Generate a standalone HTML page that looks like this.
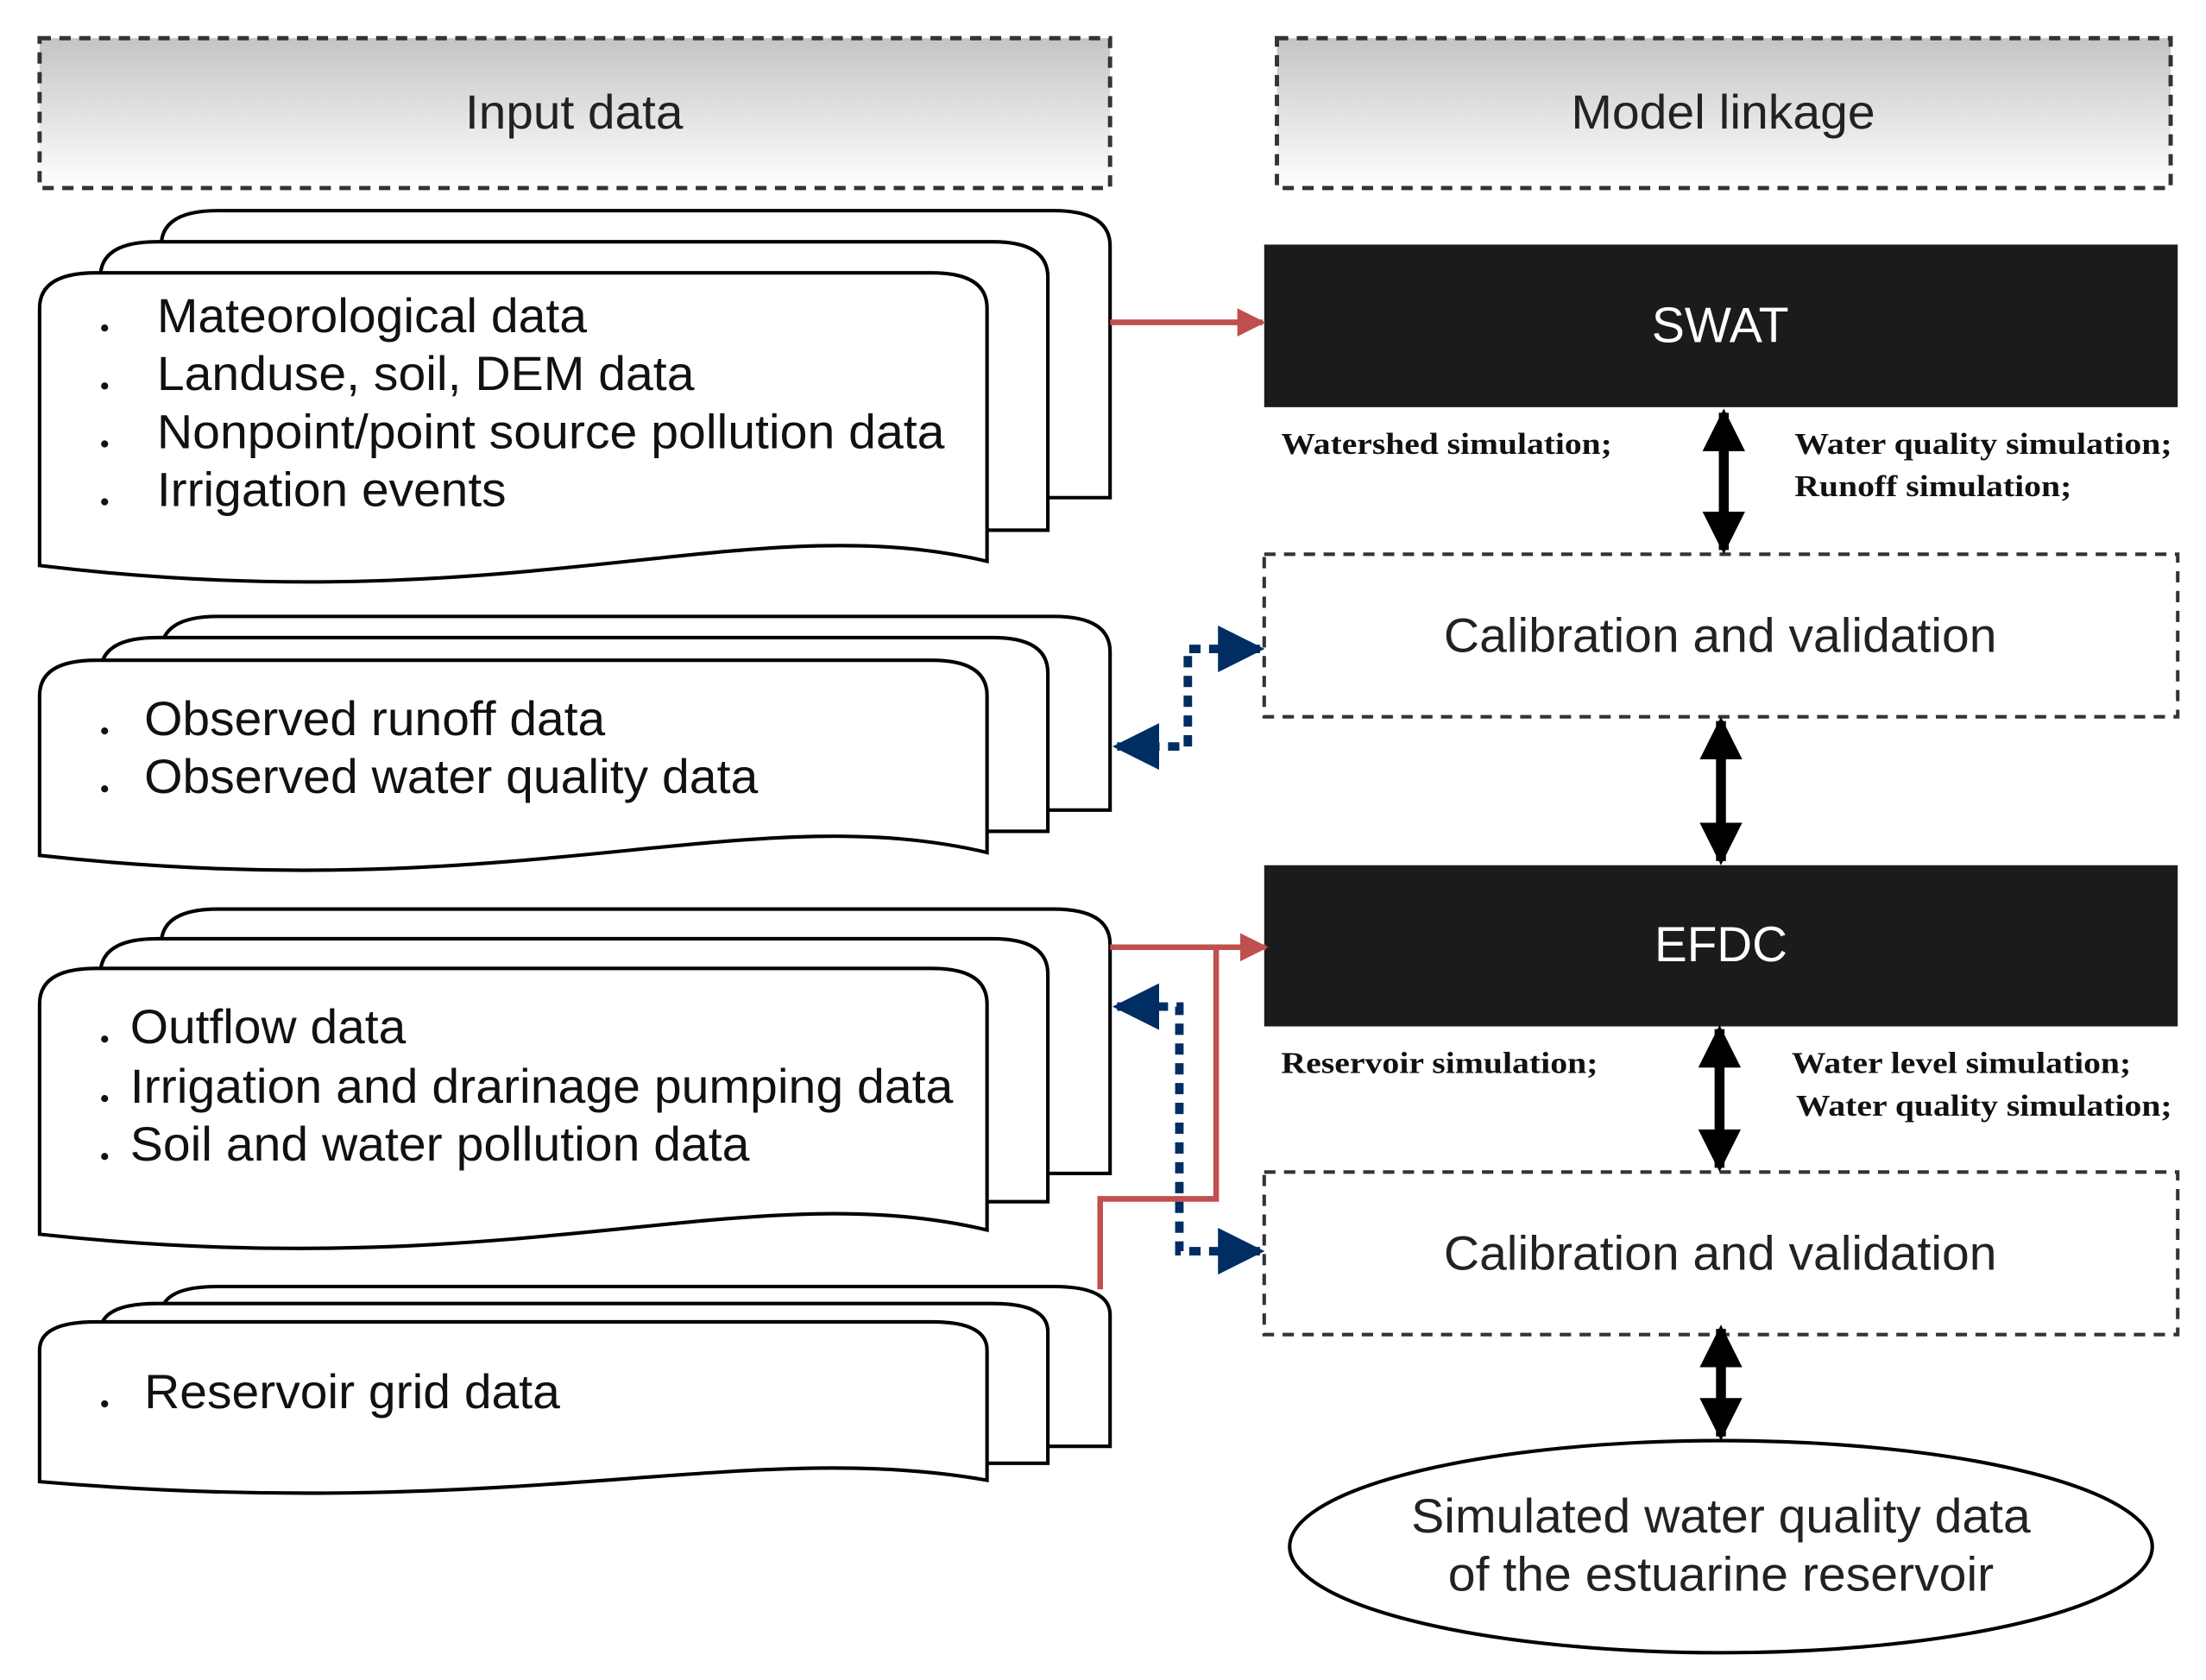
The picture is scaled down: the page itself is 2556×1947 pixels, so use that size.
<!DOCTYPE html>
<html><head><meta charset="utf-8"><style>html,body{margin:0;padding:0;background:#fff}svg{display:block}</style></head>
<body>
<svg width="2556" height="1947" viewBox="0 0 1560 1188.3" preserveAspectRatio="none" xmlns="http://www.w3.org/2000/svg">
<defs>
<linearGradient id="g" x1="0" y1="0" x2="0" y2="1"><stop offset="0" stop-color="#c4c4c4"/><stop offset="1" stop-color="#ffffff"/></linearGradient>
<marker id="ar" viewBox="0 0 10 10" refX="9" refY="5" markerWidth="5" markerHeight="5" orient="auto-start-reverse"><path d="M0,0L10,5L0,10z" fill="#c0504d"/></marker>
<marker id="ab" viewBox="0 0 10 10" refX="9" refY="5" markerWidth="5.5" markerHeight="5.5" orient="auto-start-reverse"><path d="M0,0L10,5L0,10z" fill="#002d62"/></marker>
<marker id="ak" viewBox="0 0 10 10" refX="9" refY="5" markerWidth="5" markerHeight="4.3" orient="auto-start-reverse"><path d="M0,0L10,5L0,10z" fill="#000"/></marker>
</defs>
<g font-family="Liberation Sans, sans-serif">
<rect x="28" y="27" width="757" height="106" fill="url(#g)" stroke="#333" stroke-width="3" stroke-dasharray="8,6"/>
<text x="329" y="91" font-size="34" textLength="154" lengthAdjust="spacingAndGlyphs" fill="#222">Input data</text>
<rect x="903" y="27" width="632" height="106" fill="url(#g)" stroke="#333" stroke-width="3" stroke-dasharray="8,6"/>
<text x="1111" y="91" font-size="34" textLength="215" lengthAdjust="spacingAndGlyphs" fill="#222">Model linkage</text>

<g fill="#fff" stroke="#000" stroke-width="2.5">
<path d="M114,352 L114,174 Q114,149 154,149 L745,149 Q785,149 785,174 L785,352 Z"/>
<path d="M71,375 L71,196 Q71,171 111,171 L702,171 Q741,171 741,196 L741,375 Z"/>
<path d="M28,400 L28,218 Q28,193 68,193 L659,193 Q698,193 698,218 L698,397 C528,357 368,441 28,400 Z"/>
<path d="M114,573 L114,461 Q114,436 154,436 L745,436 Q785,436 785,461 L785,573 Z"/>
<path d="M71,588 L71,476 Q71,451 111,451 L702,451 Q741,451 741,476 L741,588 Z"/>
<path d="M28,605 L28,492 Q28,467 68,467 L659,467 Q698,467 698,492 L698,603 C528,563 368,643 28,605 Z"/>
<path d="M114,830 L114,668 Q114,643 154,643 L745,643 Q785,643 785,668 L785,830 Z"/>
<path d="M71,850 L71,689 Q71,664 111,664 L702,664 Q741,664 741,689 L741,850 Z"/>
<path d="M28,873 L28,710 Q28,685 68,685 L659,685 Q698,685 698,710 L698,870 C528,830 368,910 28,873 Z"/>
<path d="M114,1023 L114,930 Q114,910 154,910 L745,910 Q785,910 785,930 L785,1023 Z"/>
<path d="M71,1035 L71,942 Q71,922 111,922 L702,922 Q741,922 741,942 L741,1035 Z"/>
<path d="M28,1048 L28,955 Q28,935 68,935 L659,935 Q698,935 698,955 L698,1047 C528,1017 368,1077 28,1048 Z"/>
</g>
<g fill="#111">
<circle cx="74" cy="232" r="2.5"/><circle cx="74" cy="273" r="2.5"/><circle cx="74" cy="314" r="2.5"/><circle cx="74" cy="355" r="2.5"/>
<circle cx="74" cy="517" r="2.5"/><circle cx="74" cy="558" r="2.5"/>
<circle cx="74" cy="735" r="2.5"/><circle cx="74" cy="777" r="2.5"/><circle cx="74" cy="818" r="2.5"/>
<circle cx="74" cy="993" r="2.5"/>
</g>
<g font-size="34" fill="#111" lengthAdjust="spacingAndGlyphs">
<text x="111" y="235" textLength="304" lengthAdjust="spacingAndGlyphs">Mateorological data</text>
<text x="111" y="276" textLength="380" lengthAdjust="spacingAndGlyphs">Landuse, soil, DEM data</text>
<text x="111" y="317" textLength="557" lengthAdjust="spacingAndGlyphs">Nonpoint/point source pollution data</text>
<text x="111" y="358" textLength="247" lengthAdjust="spacingAndGlyphs">Irrigation events</text>
<text x="102" y="520" textLength="326" lengthAdjust="spacingAndGlyphs">Observed runoff data</text>
<text x="102" y="561" textLength="434" lengthAdjust="spacingAndGlyphs">Observed water quality data</text>
<text x="92" y="738" textLength="195" lengthAdjust="spacingAndGlyphs">Outflow data</text>
<text x="92" y="780" textLength="582" lengthAdjust="spacingAndGlyphs">Irrigation and drarinage pumping data</text>
<text x="92" y="821" textLength="438" lengthAdjust="spacingAndGlyphs">Soil and water pollution data</text>
<text x="102" y="996" textLength="294" lengthAdjust="spacingAndGlyphs">Reservoir grid data</text>
</g>

<rect x="894" y="173" width="646" height="115" fill="#1b1b1b"/>
<text x="1168" y="242" font-size="35" textLength="97" lengthAdjust="spacingAndGlyphs" fill="#fff">SWAT</text>
<rect x="894" y="612" width="646" height="114" fill="#1b1b1b"/>
<text x="1170" y="680" font-size="35" textLength="94" lengthAdjust="spacingAndGlyphs" fill="#fff">EFDC</text>
<rect x="894" y="392" width="646" height="115" fill="none" stroke="#333" stroke-width="2.5" stroke-dasharray="8,6"/>
<text x="1021" y="461" font-size="34" textLength="391" lengthAdjust="spacingAndGlyphs" fill="#222">Calibration and validation</text>
<rect x="894" y="829" width="646" height="115" fill="none" stroke="#333" stroke-width="2.5" stroke-dasharray="8,6"/>
<text x="1021" y="898" font-size="34" textLength="391" lengthAdjust="spacingAndGlyphs" fill="#222">Calibration and validation</text>
<ellipse cx="1217" cy="1094" rx="305" ry="75" fill="#fff" stroke="#000" stroke-width="2.5"/>
<text x="998" y="1084" font-size="34" textLength="438" lengthAdjust="spacingAndGlyphs" fill="#222">Simulated water quality data</text>
<text x="1024" y="1125" font-size="34" textLength="386" lengthAdjust="spacingAndGlyphs" fill="#222">of the estuarine reservoir</text>
</g>

<g font-family="Liberation Serif, serif" font-weight="bold" font-size="21" fill="#111">
<text x="906" y="321" textLength="234" lengthAdjust="spacingAndGlyphs">Watershed simulation;</text>
<text x="1269" y="321" textLength="267" lengthAdjust="spacingAndGlyphs">Water quality simulation;</text>
<text x="1269" y="351" textLength="196" lengthAdjust="spacingAndGlyphs">Runoff simulation;</text>
<text x="906" y="759" textLength="224" lengthAdjust="spacingAndGlyphs">Reservoir simulation;</text>
<text x="1267" y="759" textLength="240" lengthAdjust="spacingAndGlyphs">Water level simulation;</text>
<text x="1270" y="789" textLength="266" lengthAdjust="spacingAndGlyphs">Water quality simulation;</text>
</g>

<g stroke="#000" stroke-width="7" fill="none">
<line x1="1219" y1="292" x2="1219" y2="389" marker-start="url(#ak)" marker-end="url(#ak)"/>
<line x1="1217" y1="510" x2="1217" y2="609" marker-start="url(#ak)" marker-end="url(#ak)"/>
<line x1="1216" y1="728" x2="1216" y2="826" marker-start="url(#ak)" marker-end="url(#ak)"/>
<line x1="1217" y1="940" x2="1217" y2="1016" marker-start="url(#ak)" marker-end="url(#ak)"/>
</g>
<g stroke="#c0504d" stroke-width="4" fill="none">
<line x1="785" y1="228" x2="893" y2="228" marker-end="url(#ar)"/>
<line x1="785" y1="670" x2="895" y2="670" marker-end="url(#ar)"/>
<polyline points="778,912 778,848 860,848 860,670"/>
</g>
<g stroke="#002d62" stroke-width="6" fill="none" stroke-dasharray="8,6">
<polyline points="891,459 840,459 840,528 790,528" marker-start="url(#ab)" marker-end="url(#ab)"/>
<polyline points="790,712 834,712 834,885 891,885" marker-start="url(#ab)" marker-end="url(#ab)"/>
</g>
</svg>
</body></html>
